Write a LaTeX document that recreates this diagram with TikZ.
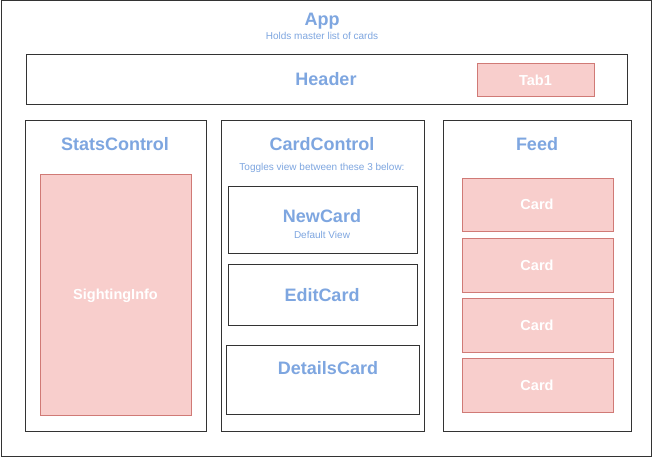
\documentclass[tikz,border=0pt]{standalone}
\usepackage{fontspec}
\setmainfont{Liberation Sans}
\definecolor{tblue}{HTML}{7EA6E0}
\definecolor{pfill}{HTML}{F8CECC}
\definecolor{pline}{HTML}{D07A76}
\definecolor{bline}{HTML}{333333}
\begin{document}
\begin{tikzpicture}[x=1pt,y=-1pt,
  frame/.style={draw=bline,line width=1pt,fill=white,inner sep=0pt},
  pinkbox/.style={draw=pline,line width=1pt,fill=pfill,inner sep=0pt},
  title/.style={anchor=base,inner sep=0pt,text=tblue,font=\fontsize{18}{20}\selectfont\bfseries},
  small/.style={anchor=base,inner sep=0pt,text=tblue,font=\fontsize{10}{12}\selectfont},
  wlabel/.style={anchor=base,inner sep=0pt,text=white,font=\fontsize{14.5}{16}\selectfont\bfseries}]
\useasboundingbox (0,0) rectangle (653,468);
\fill[white] (0,0) rectangle (653,468);
% boxes
\node[frame,minimum width=650pt,minimum height=455pt] (app) at (326,228.5) {};
\node[frame,minimum width=601pt,minimum height=50pt] (header) at (326.5,79.5) {};
\node[pinkbox,minimum width=117pt,minimum height=33pt] (tab) at (535.5,80) {};
\node[frame,minimum width=181pt,minimum height=310pt] (stats) at (115.5,276) {};
\node[pinkbox,minimum width=151pt,minimum height=241pt] (sight) at (115.5,294.5) {};
\node[frame,minimum width=203pt,minimum height=310pt] (cardctl) at (322.5,276) {};
\node[frame,minimum width=189pt,minimum height=67pt] (newcard) at (322.5,219.5) {};
\node[frame,minimum width=189pt,minimum height=61pt] (editcard) at (322.5,294.5) {};
\node[frame,minimum width=193pt,minimum height=69pt] (details) at (322.5,379.5) {};
\node[frame,minimum width=188pt,minimum height=310pt] (feed) at (537,276) {};
\node[pinkbox,minimum width=151pt,minimum height=53pt] (card1) at (537.5,204.5) {};
\node[pinkbox,minimum width=151pt,minimum height=54pt] (card2) at (537.5,265) {};
\node[pinkbox,minimum width=151pt,minimum height=54pt] (card3) at (537.5,325) {};
\node[pinkbox,minimum width=151pt,minimum height=54pt] (card4) at (537.5,385) {};
% labels
\node[title] (tapp) at (322,26) {App};
\node[small] (tholds) at (322,40) {Holds master list of cards};
\node[title] (theader) at (326,85.5) {Header};
\node[wlabel] (ttab) at (535.5,85.3) {Tab1};
\node[title] (tstats) at (115,150.7) {StatsControl};
\node[wlabel] (tsight) at (115.5,299.5) {SightingInfo};
\node[title] (tcardctl) at (322,150.7) {CardControl};
\node[small] (ttoggle) at (322,170) {Toggles view between these 3 below:};
\node[title] (tnew) at (322,222.3) {NewCard};
\node[small] (tdefault) at (322,238) {Default View};
\node[title] (tedit) at (322,301.7) {EditCard};
\node[title] (tdetails) at (328,374.3) {DetailsCard};
\node[title] (tfeed) at (537,150.7) {Feed};
\node[wlabel] (tc1) at (537,209.7) {Card};
\node[wlabel] (tc2) at (537,270) {Card};
\node[wlabel] (tc3) at (537,330.3) {Card};
\node[wlabel] (tc4) at (537,390.3) {Card};
\end{tikzpicture}
\end{document}
